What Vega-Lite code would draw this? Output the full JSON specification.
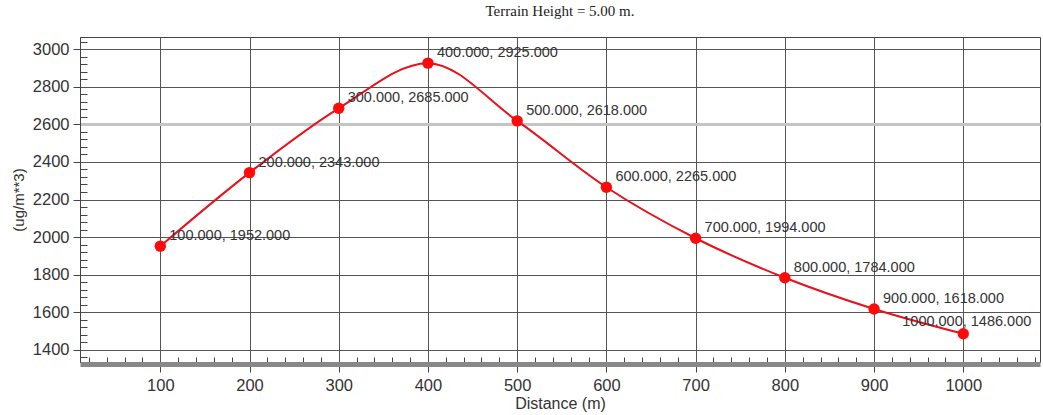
{
  "$schema": "https://vega.github.io/schema/vega-lite/v6.json",
  "autosize": "none",
  "width": 960,
  "height": 325,
  "padding": {"left": 80, "top": 37, "right": 3, "bottom": 53},
  "background": "white",
  "title": {"text": "Terrain Height = 5.00 m.", "font": "Liberation Serif", "fontSize": 15, "fontWeight": "normal", "color": "#222", "anchor": "middle", "offset": 18},
  "config": {"view": {"stroke": "#444", "strokeWidth": 1}},
  "data": {"values": [
    {"d": 100, "c": 1952},
    {"d": 200, "c": 2343},
    {"d": 300, "c": 2685},
    {"d": 400, "c": 2925},
    {"d": 500, "c": 2618},
    {"d": 600, "c": 2265},
    {"d": 700, "c": 1994},
    {"d": 800, "c": 1784},
    {"d": 900, "c": 1618},
    {"d": 1000, "c": 1486}
  ]},
  "encoding": {
    "x": {"field": "d", "type": "quantitative", "title": "Distance (m)",
      "scale": {"domain": [10, 1086], "nice": false, "zero": false},
      "axis": {
        "values": [20,40,60,80,100,120,140,160,180,200,220,240,260,280,300,320,340,360,380,400,420,440,460,480,500,520,540,560,580,600,620,640,660,680,700,720,740,760,780,800,820,840,860,880,900,920,940,960,980,1000,1020,1040,1060,1080],
        "format": "d",
        "labelExpr": "datum.value % 100 === 0 ? datum.label : ''",
        "labelFont": "Liberation Sans", "labelFontSize": 16.5, "labelColor": "#333", "labelPadding": 5,
        "titleFont": "Liberation Sans", "titleFontSize": 16, "titleFontWeight": "normal", "titleColor": "#333", "titlePadding": 2,
        "tickColor": "#444",
        "tickSize": {"condition": {"test": "datum.value % 100 === 0", "value": 8}, "value": -7},
        "domainColor": "#888", "domainWidth": 5, "offset": 2,
        "grid": true, "gridColor": "#555",
        "gridOpacity": {"condition": {"test": "datum.value % 100 === 0", "value": 1}, "value": 0}
      }},
    "y": {"field": "c", "type": "quantitative", "title": "(ug/m**3)",
      "scale": {"domain": [1336, 3064], "nice": false, "zero": false},
      "axis": {
        "values": [1360,1400,1440,1480,1520,1560,1600,1640,1680,1720,1760,1800,1840,1880,1920,1960,2000,2040,2080,2120,2160,2200,2240,2280,2320,2360,2400,2440,2480,2520,2560,2600,2640,2680,2720,2760,2800,2840,2880,2920,2960,3000,3040],
        "labelExpr": "datum.value % 200 === 0 ? datum.label : ''",
        "format": "d",
        "labelFont": "Liberation Sans", "labelFontSize": 16.5, "labelColor": "#333", "labelPadding": 4,
        "titleFont": "Liberation Sans", "titleFontSize": 15, "titleFontWeight": "normal", "titleColor": "#333", "titlePadding": 6,
        "tickColor": "#444",
        "tickSize": {"condition": {"test": "datum.value % 200 === 0", "value": 7}, "value": -7},
        "domainColor": "#444", "domainWidth": 1,
        "grid": true,
        "gridColor": {"condition": {"test": "datum.value === 2600", "value": "#c4c4c4"}, "value": "#555"},
        "gridWidth": {"condition": {"test": "datum.value === 2600", "value": 3}, "value": 1},
        "gridOpacity": {"condition": {"test": "datum.value % 200 === 0", "value": 1}, "value": 0}
      }}
  },
  "layer": [
    {"mark": {"type": "line", "color": "#e8101a", "strokeWidth": 2, "interpolate": "monotone"}},
    {"mark": {"type": "point", "filled": true, "color": "#ff0a0a", "opacity": 1, "size": 130}},
    {"mark": {"type": "text", "align": "left", "baseline": "middle", "dx": 9, "dy": -10, "font": "Liberation Sans", "fontSize": 14.5, "color": "#333"},
     "encoding": {"text": {"field": "lbl", "type": "nominal"}},
     "transform": [{"filter": "datum.d < 1000"}, {"calculate": "format(datum.d, '.3f') + ', ' + format(datum.c, '.3f')", "as": "lbl"}]},
    {"mark": {"type": "text", "align": "left", "baseline": "middle", "dx": -61, "dy": -12, "font": "Liberation Sans", "fontSize": 14.5, "color": "#333"},
     "encoding": {"text": {"field": "lbl", "type": "nominal"}},
     "transform": [{"filter": "datum.d === 1000"}, {"calculate": "format(datum.d, '.3f') + ', ' + format(datum.c, '.3f')", "as": "lbl"}]}
  ]
}
